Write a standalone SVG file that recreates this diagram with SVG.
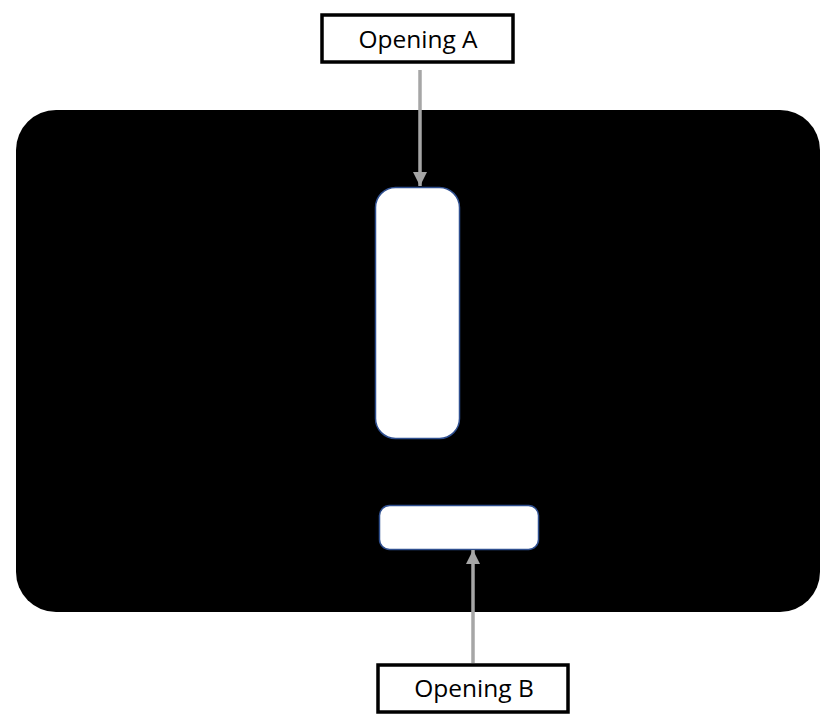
<svg xmlns="http://www.w3.org/2000/svg" width="840" height="725" viewBox="0 0 840 725">
<style>
.lbl{fill:#fff;stroke:#000;stroke-width:3.5}
.txt{font-family:"Open Sans","Liberation Sans",sans-serif;font-size:24.5px;fill:#000;text-anchor:middle}
.hole{fill:#fff;stroke:#2f4f8f;stroke-width:1.5}
.conn{stroke:#a6a6a6;stroke-width:3.5;fill:none}
</style>
<defs>
<marker id="ah" viewBox="0 0 10 10" refX="10" refY="5" markerWidth="4" markerHeight="4" markerUnits="strokeWidth" orient="auto">
<path d="M0,0 L10,5 L0,10 z" fill="#a6a6a6"/>
</marker>
</defs>
<g id="board">
<rect x="16" y="110" width="804" height="502" rx="40" fill="#000"/>
</g>
<g id="openingA-hole">
<rect class="hole" x="375.5" y="187.5" width="84" height="251" rx="20"/>
</g>
<g id="openingB-hole">
<rect class="hole" x="379.5" y="505.5" width="159" height="44" rx="10"/>
</g>
<g id="labelA">
<rect class="lbl" x="322" y="15" width="191" height="47"/>
<text class="txt" x="418" y="48">Opening A</text>
</g>
<g id="labelB">
<rect class="lbl" x="378" y="665" width="190" height="47"/>
<text class="txt" x="474" y="697">Opening B</text>
</g>
<g id="connectors">
<line class="conn" x1="420" y1="70" x2="420" y2="186" marker-end="url(#ah)"/>
<line class="conn" x1="473" y1="663" x2="473" y2="550" marker-end="url(#ah)"/>
</g>
</svg>
